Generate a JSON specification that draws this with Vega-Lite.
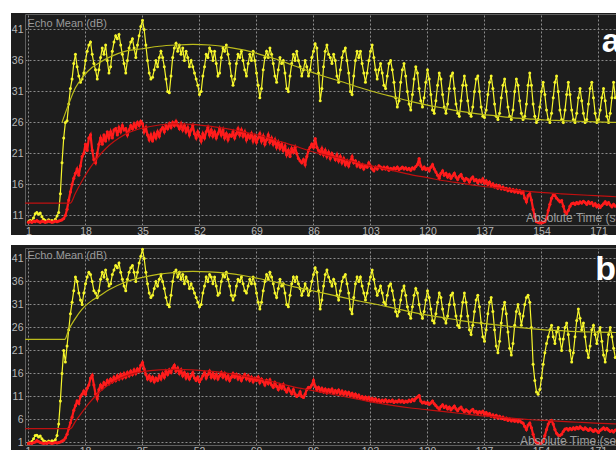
{
"$schema":"https://vega.github.io/schema/vega-lite/v6.json",
"padding":{"left":11,"top":13,"right":0,"bottom":0},
"background":"#ffffff",
"spacing":10,
"bounds":"flush",
"config":{
 "view":{"fill":"#1d1d1d","stroke":null},
 "font":"Liberation Sans",
 "axis":{"grid":false,"domain":false,"ticks":false,"tickSize":0,"labelOverlap":false,"labelColor":"#b8b8b8","labelFontSize":10.5,"labelFont":"Liberation Sans","titleColor":"#9a9a9a","titleFont":"Liberation Sans","titleFontSize":11,"titleFontWeight":"normal"}
},
"datasets":{
"xt":[{"t":1},{"t":18},{"t":35},{"t":52},{"t":69},{"t":86},{"t":103},{"t":120},{"t":137},{"t":154},{"t":171}],
"ya":[{"v":11},{"v":16},{"v":21},{"v":26},{"v":31},{"v":36},{"v":41}],
"yb":[{"v":1},{"v":6},{"v":11},{"v":16},{"v":21},{"v":26},{"v":31},{"v":36},{"v":41}],
"ayf":[{"t":11,"v":26.0},{"t":13,"v":29.0},{"t":15,"v":31.6},{"t":17,"v":33.2},{"t":20,"v":34.9},{"t":22,"v":35.6},{"t":25,"v":36.5},{"t":30,"v":37.5},{"t":35,"v":37.9},{"t":40,"v":38.3},{"t":45,"v":38.5},{"t":50,"v":38.6},{"t":55,"v":38.5},{"t":60,"v":38.2},{"t":65,"v":37.7},{"t":70,"v":37.0},{"t":75,"v":36.2},{"t":80,"v":35.2},{"t":85,"v":34.2},{"t":90,"v":33.3},{"t":95,"v":32.5},{"t":100,"v":31.6},{"t":105,"v":30.8},{"t":110,"v":30.1},{"t":115,"v":29.4},{"t":120,"v":28.8},{"t":125,"v":28.3},{"t":130,"v":27.8},{"t":135,"v":27.4},{"t":140,"v":27.1},{"t":145,"v":26.8},{"t":150,"v":26.6},{"t":155,"v":26.4},{"t":160,"v":26.3},{"t":165,"v":26.2},{"t":170,"v":26.1},{"t":177,"v":26.0}],
"arf":[{"t":0,"v":13.0},{"t":13.5,"v":13.0},{"t":15,"v":14.6},{"t":17,"v":16.6},{"t":19,"v":18.4},{"t":21,"v":19.9},{"t":23,"v":21.2},{"t":25,"v":22.3},{"t":28,"v":23.5},{"t":31,"v":24.4},{"t":35,"v":25.1},{"t":40,"v":25.6},{"t":45,"v":25.8},{"t":50,"v":25.7},{"t":55,"v":25.4},{"t":60,"v":25.0},{"t":65,"v":24.5},{"t":70,"v":23.9},{"t":75,"v":23.1},{"t":80,"v":22.3},{"t":85,"v":21.4},{"t":90,"v":20.7},{"t":95,"v":20.1},{"t":100,"v":19.4},{"t":105,"v":18.8},{"t":110,"v":18.2},{"t":115,"v":17.6},{"t":120,"v":17.1},{"t":125,"v":16.6},{"t":130,"v":16.2},{"t":135,"v":15.8},{"t":140,"v":15.5},{"t":145,"v":15.2},{"t":150,"v":14.9},{"t":160,"v":14.5},{"t":170,"v":14.2},{"t":177,"v":14.0}],
"byf":[{"t":0,"v":23.4},{"t":11.8,"v":23.4},{"t":13,"v":25.5},{"t":15,"v":28.0},{"t":17,"v":30.0},{"t":20,"v":31.9},{"t":22,"v":32.8},{"t":25,"v":34.2},{"t":30,"v":35.9},{"t":35,"v":36.9},{"t":40,"v":37.6},{"t":45,"v":38.0},{"t":50,"v":38.2},{"t":55,"v":38.1},{"t":60,"v":37.8},{"t":65,"v":37.3},{"t":70,"v":36.6},{"t":75,"v":35.8},{"t":80,"v":34.9},{"t":85,"v":34.1},{"t":90,"v":33.3},{"t":95,"v":32.5},{"t":100,"v":31.7},{"t":105,"v":31.0},{"t":110,"v":30.2},{"t":115,"v":29.4},{"t":120,"v":28.7},{"t":125,"v":28.1},{"t":130,"v":27.5},{"t":135,"v":27.0},{"t":140,"v":26.6},{"t":145,"v":26.2},{"t":150,"v":25.8},{"t":155,"v":25.5},{"t":160,"v":25.3},{"t":165,"v":25.1},{"t":170,"v":25.0},{"t":177,"v":24.9}],
"brf":[{"t":0,"v":4.0},{"t":13.5,"v":4.0},{"t":15,"v":5.6},{"t":17,"v":7.6},{"t":19,"v":9.5},{"t":21,"v":11.1},{"t":23,"v":12.5},{"t":25,"v":13.6},{"t":28,"v":14.8},{"t":31,"v":15.7},{"t":35,"v":16.4},{"t":40,"v":16.8},{"t":45,"v":16.9},{"t":50,"v":16.8},{"t":55,"v":16.5},{"t":60,"v":16.1},{"t":65,"v":15.5},{"t":70,"v":14.8},{"t":75,"v":14.0},{"t":80,"v":13.1},{"t":85,"v":12.4},{"t":90,"v":11.7},{"t":95,"v":11.0},{"t":100,"v":10.3},{"t":105,"v":9.6},{"t":110,"v":9.0},{"t":115,"v":8.5},{"t":120,"v":8.1},{"t":125,"v":7.7},{"t":130,"v":7.3},{"t":135,"v":6.9},{"t":140,"v":6.6},{"t":145,"v":6.3},{"t":150,"v":6.0},{"t":155,"v":5.8},{"t":160,"v":5.6},{"t":165,"v":5.4},{"t":170,"v":5.2},{"t":177,"v":5.0}],
"a":[
{"t":1,"y":10.0,"r":9.9},{"t":1.5,"y":10.2,"r":10.0},{"t":2,"y":10.1,"r":9.9},{"t":2.5,"y":10.6,"r":10.1},{"t":3,"y":11.3,"r":10.0},{"t":3.5,"y":11.5,"r":10.2},{"t":4,"y":11.2,"r":10.0},{"t":4.5,"y":11.4,"r":9.9},{"t":5,"y":10.8,"r":10.1},{"t":5.5,"y":10.4,"r":10.0},{"t":6,"y":10.2,"r":9.9},{"t":6.5,"y":10.0,"r":10.0},{"t":7,"y":10.3,"r":10.1},{"t":7.5,"y":10.1,"r":10.0},{"t":8,"y":10.2,"r":9.9},{"t":8.5,"y":10.0,"r":10.0},{"t":9,"y":10.4,"r":10.1},{"t":9.5,"y":10.9,"r":10.0},{"t":10,"y":11.5,"r":10.1},{"t":10.5,"y":14.5,"r":10.2},
{"t":11,"y":19.5,"r":10.3},{"t":11.5,"y":23.5,"r":10.5},{"t":12,"y":26.0,"r":11.0},{"t":12.5,"y":26.3,"r":12.0},{"t":13,"y":29.0,"r":13.5},{"t":13.5,"y":31.5,"r":14.8},{"t":14,"y":33.0,"r":16.0},{"t":14.5,"y":35.5,"r":17.0},{"t":15,"y":37.0,"r":17.8},{"t":15.5,"y":35.0,"r":18.5},{"t":16,"y":33.5,"r":17.5},{"t":16.5,"y":32.5,"r":19.0},{"t":17,"y":33.0,"r":20.5},{"t":17.5,"y":34.0,"r":21.0},{"t":18,"y":36.0,"r":22.5},{"t":18.5,"y":37.5,"r":21.5},{"t":19,"y":38.5,"r":23.5},{"t":19.5,"y":39.0,"r":24.0},{"t":20,"y":37.0,"r":21.5},{"t":20.5,"y":35.5,"r":20.0},
{"t":21,"y":34.5,"r":19.5},{"t":21.5,"y":33.0,"r":21.0},{"t":22,"y":34.5,"r":22.5},{"t":22.5,"y":36.5,"r":23.5},{"t":23,"y":38.0,"r":22.5},{"t":23.5,"y":37.0,"r":24.0},{"t":24,"y":38.5,"r":23.0},{"t":24.5,"y":36.0,"r":24.5},{"t":25,"y":34.0,"r":23.5},{"t":25.5,"y":35.0,"r":24.5},{"t":26,"y":37.5,"r":23.5},{"t":26.5,"y":39.0,"r":24.8},{"t":27,"y":40.0,"r":25.0},{"t":27.5,"y":39.5,"r":24.0},{"t":28,"y":40.2,"r":25.2},{"t":28.5,"y":38.5,"r":24.5},{"t":29,"y":37.0,"r":25.5},{"t":29.5,"y":35.5,"r":24.8},{"t":30,"y":34.0,"r":25.0},{"t":30.5,"y":36.0,"r":24.0},
{"t":31,"y":38.0,"r":24.8},{"t":31.5,"y":39.0,"r":25.5},{"t":32,"y":39.5,"r":25.0},{"t":32.5,"y":38.0,"r":25.8},{"t":33,"y":36.5,"r":25.2},{"t":33.5,"y":38.5,"r":26.0},{"t":34,"y":40.0,"r":25.5},{"t":34.5,"y":41.5,"r":26.2},{"t":35,"y":42.5,"r":25.8},{"t":35.5,"y":41.0,"r":24.5},{"t":36,"y":38.5,"r":25.2},{"t":36.5,"y":36.0,"r":24.0},{"t":37,"y":34.0,"r":23.2},{"t":37.5,"y":33.0,"r":24.0},{"t":38,"y":33.3,"r":23.0},{"t":38.5,"y":34.5,"r":24.2},{"t":39,"y":36.0,"r":23.5},{"t":39.5,"y":35.0,"r":24.5},{"t":40,"y":36.5,"r":23.8},{"t":40.5,"y":37.5,"r":24.8},
{"t":41,"y":36.5,"r":25.2},{"t":41.5,"y":35.0,"r":24.5},{"t":42,"y":33.0,"r":25.5},{"t":42.5,"y":31.0,"r":25.0},{"t":43,"y":30.8,"r":25.8},{"t":43.5,"y":33.5,"r":25.2},{"t":44,"y":36.5,"r":26.0},{"t":44.5,"y":38.0,"r":25.5},{"t":45,"y":38.8,"r":26.2},{"t":45.5,"y":37.5,"r":25.5},{"t":46,"y":38.5,"r":25.0},{"t":46.5,"y":37.0,"r":25.8},{"t":47,"y":38.0,"r":24.8},{"t":47.5,"y":36.0,"r":25.5},{"t":48,"y":37.5,"r":24.5},{"t":48.5,"y":36.5,"r":25.2},{"t":49,"y":35.0,"r":24.0},{"t":49.5,"y":36.0,"r":24.8},{"t":50,"y":35.0,"r":25.5},{"t":50.5,"y":34.0,"r":24.2},
{"t":51,"y":33.0,"r":23.5},{"t":51.5,"y":32.0,"r":24.5},{"t":52,"y":30.5,"r":23.8},{"t":52.5,"y":31.0,"r":23.0},{"t":53,"y":33.5,"r":24.2},{"t":53.5,"y":35.0,"r":23.5},{"t":54,"y":37.0,"r":24.5},{"t":54.5,"y":36.5,"r":25.2},{"t":55,"y":38.0,"r":24.0},{"t":55.5,"y":37.5,"r":24.8},{"t":56,"y":36.0,"r":23.8},{"t":56.5,"y":37.5,"r":24.5},{"t":57,"y":35.5,"r":23.5},{"t":57.5,"y":33.5,"r":24.2},{"t":58,"y":34.0,"r":25.0},{"t":58.5,"y":36.5,"r":24.0},{"t":59,"y":38.0,"r":24.8},{"t":59.5,"y":37.5,"r":23.5},{"t":60,"y":38.5,"r":24.2},{"t":60.5,"y":37.0,"r":23.2},
{"t":61,"y":35.5,"r":24.0},{"t":61.5,"y":33.5,"r":23.8},{"t":62,"y":32.0,"r":24.5},{"t":62.5,"y":33.0,"r":23.5},{"t":63,"y":35.5,"r":24.2},{"t":63.5,"y":37.0,"r":25.0},{"t":64,"y":36.5,"r":24.0},{"t":64.5,"y":37.5,"r":24.8},{"t":65,"y":36.0,"r":23.8},{"t":65.5,"y":34.5,"r":24.5},{"t":66,"y":33.5,"r":23.2},{"t":66.5,"y":35.5,"r":24.0},{"t":67,"y":37.0,"r":23.5},{"t":67.5,"y":36.0,"r":24.2},{"t":68,"y":37.5,"r":23.0},{"t":68.5,"y":36.0,"r":23.8},{"t":69,"y":34.0,"r":22.8},{"t":69.5,"y":32.0,"r":23.5},{"t":70,"y":30.0,"r":24.2},{"t":70.5,"y":31.5,"r":23.0},
{"t":71,"y":34.5,"r":23.8},{"t":71.5,"y":36.5,"r":22.5},{"t":72,"y":37.5,"r":23.2},{"t":72.5,"y":36.5,"r":24.0},{"t":73,"y":38.0,"r":22.8},{"t":73.5,"y":37.0,"r":23.5},{"t":74,"y":35.5,"r":22.5},{"t":74.5,"y":33.5,"r":23.2},{"t":75,"y":32.5,"r":22.0},{"t":75.5,"y":34.5,"r":22.8},{"t":76,"y":36.5,"r":21.8},{"t":76.5,"y":35.5,"r":22.5},{"t":77,"y":36.0,"r":21.5},{"t":77.5,"y":34.0,"r":22.2},{"t":78,"y":31.5,"r":20.8},{"t":78.5,"y":31.0,"r":21.5},{"t":79,"y":33.5,"r":20.5},{"t":79.5,"y":35.5,"r":21.8},{"t":80,"y":37.0,"r":21.2},{"t":80.5,"y":36.0,"r":22.0},
{"t":81,"y":37.5,"r":21.0},{"t":81.5,"y":36.0,"r":20.2},{"t":82,"y":35.0,"r":19.8},{"t":82.5,"y":33.5,"r":19.5},{"t":83,"y":34.5,"r":20.0},{"t":83.5,"y":36.0,"r":19.2},{"t":84,"y":35.0,"r":20.5},{"t":84.5,"y":33.5,"r":21.5},{"t":85,"y":34.5,"r":22.0},{"t":85.5,"y":36.5,"r":22.5},{"t":86,"y":37.5,"r":22.0},{"t":86.5,"y":38.7,"r":23.4},{"t":87,"y":38.0,"r":22.0},{"t":87.5,"y":34.0,"r":21.5},{"t":88,"y":29.5,"r":21.0},{"t":88.5,"y":31.5,"r":21.8},{"t":89,"y":35.0,"r":20.8},{"t":89.5,"y":37.5,"r":21.5},{"t":90,"y":38.5,"r":20.5},{"t":90.5,"y":37.0,"r":21.2},
{"t":91,"y":36.5,"r":20.2},{"t":91.5,"y":35.5,"r":21.0},{"t":92,"y":37.0,"r":20.5},{"t":92.5,"y":36.0,"r":20.0},{"t":93,"y":33.5,"r":20.8},{"t":93.5,"y":32.5,"r":19.8},{"t":94,"y":34.5,"r":20.5},{"t":94.5,"y":36.5,"r":19.5},{"t":95,"y":37.5,"r":20.2},{"t":95.5,"y":38.0,"r":19.2},{"t":96,"y":36.0,"r":19.8},{"t":96.5,"y":34.0,"r":19.0},{"t":97,"y":31.0,"r":19.8},{"t":97.5,"y":30.5,"r":20.5},{"t":98,"y":33.5,"r":19.5},{"t":98.5,"y":36.0,"r":19.8},{"t":99,"y":37.5,"r":19.0},{"t":99.5,"y":36.5,"r":19.5},{"t":100,"y":37.5,"r":18.8},{"t":100.5,"y":35.5,"r":19.2},
{"t":101,"y":34.0,"r":18.5},{"t":101.5,"y":32.5,"r":19.0},{"t":102,"y":34.0,"r":18.8},{"t":102.5,"y":36.0,"r":19.5},{"t":103,"y":37.5,"r":19.0},{"t":103.5,"y":38.5,"r":18.5},{"t":104,"y":36.5,"r":18.2},{"t":104.5,"y":34.5,"r":18.8},{"t":105,"y":33.0,"r":18.5},{"t":105.5,"y":34.5,"r":19.0},{"t":106,"y":35.5,"r":18.8},{"t":106.5,"y":34.0,"r":18.5},{"t":107,"y":32.0,"r":18.8},{"t":107.5,"y":31.5,"r":18.5},{"t":108,"y":33.5,"r":18.8},{"t":108.5,"y":35.5,"r":18.3},{"t":109,"y":36.0,"r":18.6},{"t":109.5,"y":34.5,"r":18.4},{"t":110,"y":32.5,"r":18.7},{"t":110.5,"y":30.0,"r":18.5},
{"t":111,"y":28.5,"r":18.8},{"t":111.5,"y":29.5,"r":18.4},{"t":112,"y":32.5,"r":18.6},{"t":112.5,"y":34.5,"r":18.8},{"t":113,"y":35.5,"r":18.5},{"t":113.5,"y":33.5,"r":18.7},{"t":114,"y":31.0,"r":18.4},{"t":114.5,"y":29.0,"r":18.6},{"t":115,"y":28.0,"r":18.3},{"t":115.5,"y":30.5,"r":18.7},{"t":116,"y":33.0,"r":18.5},{"t":116.5,"y":35.0,"r":18.9},{"t":117,"y":34.0,"r":19.2},{"t":117.5,"y":31.5,"r":20.2},{"t":118,"y":29.5,"r":19.0},{"t":118.5,"y":28.5,"r":18.5},{"t":119,"y":30.0,"r":18.8},{"t":119.5,"y":32.5,"r":18.4},{"t":120,"y":34.5,"r":18.6},{"t":120.5,"y":33.0,"r":18.2},
{"t":121,"y":30.5,"r":18.8},{"t":121.5,"y":28.0,"r":19.2},{"t":122,"y":27.5,"r":18.5},{"t":122.5,"y":29.5,"r":18.0},{"t":123,"y":32.0,"r":17.5},{"t":123.5,"y":34.0,"r":17.0},{"t":124,"y":33.0,"r":17.8},{"t":124.5,"y":30.5,"r":18.2},{"t":125,"y":28.5,"r":17.5},{"t":125.5,"y":27.5,"r":17.8},{"t":126,"y":29.0,"r":17.2},{"t":126.5,"y":31.5,"r":17.6},{"t":127,"y":33.5,"r":17.0},{"t":127.5,"y":34.0,"r":17.4},{"t":128,"y":31.5,"r":17.8},{"t":128.5,"y":29.0,"r":17.2},{"t":129,"y":27.5,"r":16.8},{"t":129.5,"y":27.0,"r":17.3},{"t":130,"y":29.5,"r":17.6},{"t":130.5,"y":32.0,"r":17.0},
{"t":131,"y":33.5,"r":16.6},{"t":131.5,"y":32.0,"r":17.0},{"t":132,"y":29.5,"r":16.8},{"t":132.5,"y":27.5,"r":16.4},{"t":133,"y":27.0,"r":16.9},{"t":133.5,"y":28.5,"r":17.2},{"t":134,"y":31.0,"r":16.6},{"t":134.5,"y":33.0,"r":16.8},{"t":135,"y":33.5,"r":16.3},{"t":135.5,"y":31.0,"r":16.7},{"t":136,"y":28.5,"r":16.4},{"t":136.5,"y":27.0,"r":16.9},{"t":137,"y":26.8,"r":16.2},{"t":137.5,"y":28.0,"r":16.6},{"t":138,"y":30.5,"r":16.0},{"t":138.5,"y":32.5,"r":16.4},{"t":139,"y":33.5,"r":15.8},{"t":139.5,"y":31.5,"r":16.1},{"t":140,"y":29.0,"r":15.6},{"t":140.5,"y":27.0,"r":15.9},
{"t":141,"y":26.5,"r":15.4},{"t":141.5,"y":27.5,"r":15.8},{"t":142,"y":30.0,"r":15.3},{"t":142.5,"y":32.0,"r":15.6},{"t":143,"y":33.0,"r":15.2},{"t":143.5,"y":31.0,"r":15.4},{"t":144,"y":28.5,"r":15.0},{"t":144.5,"y":27.0,"r":15.3},{"t":145,"y":26.5,"r":14.9},{"t":145.5,"y":28.0,"r":15.2},{"t":146,"y":31.0,"r":14.8},{"t":146.5,"y":33.0,"r":15.1},{"t":147,"y":32.0,"r":14.7},{"t":147.5,"y":29.5,"r":15.0},{"t":148,"y":27.5,"r":14.6},{"t":148.5,"y":26.5,"r":14.8},{"t":149,"y":27.0,"r":13.8},{"t":149.5,"y":29.0,"r":13.2},{"t":150,"y":32.0,"r":14.2},{"t":150.5,"y":34.0,"r":14.5},
{"t":151,"y":32.0,"r":13.5},{"t":151.5,"y":29.0,"r":12.0},{"t":152,"y":27.0,"r":10.8},{"t":152.5,"y":26.0,"r":10.0},{"t":153,"y":26.5,"r":9.9},{"t":153.5,"y":28.5,"r":9.8},{"t":154,"y":31.0,"r":9.8},{"t":154.5,"y":32.5,"r":9.9},{"t":155,"y":30.5,"r":10.0},{"t":155.5,"y":28.0,"r":10.5},{"t":156,"y":26.5,"r":11.8},{"t":156.5,"y":26.0,"r":12.8},{"t":157,"y":27.5,"r":13.8},{"t":157.5,"y":30.0,"r":14.3},{"t":158,"y":32.5,"r":14.2},{"t":158.5,"y":33.5,"r":13.8},{"t":159,"y":31.0,"r":13.5},{"t":159.5,"y":28.0,"r":13.2},{"t":160,"y":26.5,"r":13.4},{"t":160.5,"y":26.0,"r":12.5},
{"t":161,"y":28.0,"r":11.6},{"t":161.5,"y":30.5,"r":11.3},{"t":162,"y":32.5,"r":11.8},{"t":162.5,"y":30.5,"r":12.5},{"t":163,"y":28.0,"r":12.9},{"t":163.5,"y":26.5,"r":13.0},{"t":164,"y":26.0,"r":12.8},{"t":164.5,"y":27.5,"r":13.1},{"t":165,"y":30.0,"r":12.9},{"t":165.5,"y":31.5,"r":13.2},{"t":166,"y":29.5,"r":13.0},{"t":166.5,"y":27.5,"r":13.3},{"t":167,"y":26.0,"r":13.1},{"t":167.5,"y":26.5,"r":12.8},{"t":168,"y":29.0,"r":13.2},{"t":168.5,"y":31.5,"r":12.9},{"t":169,"y":32.5,"r":13.1},{"t":169.5,"y":30.0,"r":12.6},{"t":170,"y":27.5,"r":12.9},{"t":170.5,"y":26.0,"r":12.4},
{"t":171,"y":26.5,"r":12.7},{"t":171.5,"y":28.0,"r":12.3},{"t":172,"y":30.0,"r":12.6},{"t":172.5,"y":31.5,"r":12.9},{"t":173,"y":29.5,"r":13.2},{"t":173.5,"y":27.0,"r":12.8},{"t":174,"y":26.0,"r":13.1},{"t":174.5,"y":27.5,"r":12.7},{"t":175,"y":30.0,"r":12.4},{"t":175.5,"y":32.5,"r":12.8},{"t":176,"y":30.0,"r":12.5}
],
"b":[
{"t":1,"y":0.8,"r":0.8},{"t":1.5,"y":1.0,"r":0.9},{"t":2,"y":1.2,"r":0.8},{"t":2.5,"y":1.8,"r":1.0},{"t":3,"y":2.5,"r":1.1},{"t":3.5,"y":2.6,"r":1.4},{"t":4,"y":2.2,"r":1.2},{"t":4.5,"y":2.4,"r":1.0},{"t":5,"y":1.8,"r":0.9},{"t":5.5,"y":1.4,"r":0.8},{"t":6,"y":1.2,"r":0.9},{"t":6.5,"y":1.0,"r":0.8},{"t":7,"y":1.3,"r":1.0},{"t":7.5,"y":1.1,"r":0.9},{"t":8,"y":1.4,"r":0.8},{"t":8.5,"y":1.2,"r":0.9},{"t":9,"y":1.6,"r":1.0},{"t":9.5,"y":2.5,"r":0.9},{"t":10,"y":5.0,"r":1.0},{"t":10.5,"y":10.0,"r":1.1},
{"t":11,"y":16.0,"r":1.3},{"t":11.5,"y":21.0,"r":1.5},{"t":12,"y":18.5,"r":2.0},{"t":12.5,"y":22.0,"r":2.8},{"t":13,"y":25.5,"r":4.0},{"t":13.5,"y":29.0,"r":5.3},{"t":14,"y":31.5,"r":6.5},{"t":14.5,"y":34.0,"r":8.0},{"t":15,"y":37.0,"r":9.0},{"t":15.5,"y":36.0,"r":10.0},{"t":16,"y":33.5,"r":9.5},{"t":16.5,"y":32.0,"r":11.0},{"t":17,"y":31.0,"r":11.5},{"t":17.5,"y":33.5,"r":12.2},{"t":18,"y":35.5,"r":11.5},{"t":18.5,"y":37.0,"r":12.8},{"t":19,"y":38.0,"r":13.5},{"t":19.5,"y":37.5,"r":15.0},{"t":20,"y":36.0,"r":15.6},{"t":20.5,"y":34.0,"r":13.5},
{"t":21,"y":33.5,"r":11.5},{"t":21.5,"y":32.5,"r":10.5},{"t":22,"y":34.0,"r":12.5},{"t":22.5,"y":36.5,"r":13.5},{"t":23,"y":38.0,"r":12.8},{"t":23.5,"y":37.0,"r":14.0},{"t":24,"y":38.5,"r":13.5},{"t":24.5,"y":36.5,"r":14.5},{"t":25,"y":35.0,"r":13.8},{"t":25.5,"y":35.5,"r":14.8},{"t":26,"y":37.5,"r":14.2},{"t":26.5,"y":38.5,"r":15.2},{"t":27,"y":39.5,"r":14.5},{"t":27.5,"y":39.0,"r":15.5},{"t":28,"y":40.0,"r":14.8},{"t":28.5,"y":38.0,"r":15.8},{"t":29,"y":36.5,"r":15.0},{"t":29.5,"y":35.0,"r":16.0},{"t":30,"y":34.0,"r":15.2},{"t":30.5,"y":36.5,"r":16.2},
{"t":31,"y":38.0,"r":15.5},{"t":31.5,"y":39.0,"r":16.5},{"t":32,"y":39.5,"r":15.8},{"t":32.5,"y":38.0,"r":16.8},{"t":33,"y":36.0,"r":16.0},{"t":33.5,"y":38.0,"r":17.0},{"t":34,"y":40.0,"r":16.5},{"t":34.5,"y":41.5,"r":17.8},{"t":35,"y":43.0,"r":18.4},{"t":35.5,"y":41.0,"r":17.0},{"t":36,"y":38.0,"r":15.8},{"t":36.5,"y":35.5,"r":14.8},{"t":37,"y":33.5,"r":15.5},{"t":37.5,"y":32.5,"r":14.5},{"t":38,"y":33.0,"r":15.2},{"t":38.5,"y":34.5,"r":14.2},{"t":39,"y":36.0,"r":15.0},{"t":39.5,"y":35.0,"r":14.5},{"t":40,"y":36.5,"r":15.5},{"t":40.5,"y":37.5,"r":14.8},
{"t":41,"y":36.0,"r":16.0},{"t":41.5,"y":34.5,"r":15.2},{"t":42,"y":32.5,"r":16.5},{"t":42.5,"y":31.0,"r":15.8},{"t":43,"y":30.5,"r":16.8},{"t":43.5,"y":33.0,"r":16.2},{"t":44,"y":36.0,"r":17.2},{"t":44.5,"y":38.0,"r":17.8},{"t":45,"y":38.5,"r":16.5},{"t":45.5,"y":37.0,"r":17.2},{"t":46,"y":38.0,"r":16.0},{"t":46.5,"y":36.5,"r":16.8},{"t":47,"y":37.5,"r":15.5},{"t":47.5,"y":35.5,"r":16.2},{"t":48,"y":37.0,"r":15.0},{"t":48.5,"y":36.0,"r":15.8},{"t":49,"y":34.5,"r":14.8},{"t":49.5,"y":35.5,"r":15.5},{"t":50,"y":34.5,"r":16.2},{"t":50.5,"y":33.5,"r":15.0},
{"t":51,"y":32.5,"r":14.5},{"t":51.5,"y":31.5,"r":15.2},{"t":52,"y":30.5,"r":14.2},{"t":52.5,"y":31.0,"r":14.8},{"t":53,"y":33.5,"r":15.5},{"t":53.5,"y":35.0,"r":16.2},{"t":54,"y":37.0,"r":15.0},{"t":54.5,"y":36.0,"r":15.8},{"t":55,"y":37.5,"r":16.5},{"t":55.5,"y":37.0,"r":15.2},{"t":56,"y":35.5,"r":16.0},{"t":56.5,"y":37.0,"r":15.0},{"t":57,"y":35.0,"r":15.8},{"t":57.5,"y":33.0,"r":14.8},{"t":58,"y":33.5,"r":15.5},{"t":58.5,"y":36.0,"r":16.2},{"t":59,"y":37.5,"r":15.2},{"t":59.5,"y":37.0,"r":16.0},{"t":60,"y":38.0,"r":14.8},{"t":60.5,"y":36.5,"r":15.5},
{"t":61,"y":35.0,"r":14.5},{"t":61.5,"y":33.0,"r":15.2},{"t":62,"y":32.0,"r":16.0},{"t":62.5,"y":33.0,"r":15.2},{"t":63,"y":35.0,"r":15.8},{"t":63.5,"y":36.5,"r":14.8},{"t":64,"y":36.0,"r":15.5},{"t":64.5,"y":37.0,"r":14.5},{"t":65,"y":35.5,"r":15.2},{"t":65.5,"y":34.0,"r":15.8},{"t":66,"y":33.5,"r":14.8},{"t":66.5,"y":35.0,"r":15.5},{"t":67,"y":36.5,"r":14.5},{"t":67.5,"y":35.5,"r":15.2},{"t":68,"y":37.0,"r":14.2},{"t":68.5,"y":35.5,"r":15.0},{"t":69,"y":33.5,"r":14.5},{"t":69.5,"y":31.5,"r":15.2},{"t":70,"y":30.0,"r":14.0},{"t":70.5,"y":31.5,"r":14.8},
{"t":71,"y":34.0,"r":14.2},{"t":71.5,"y":36.0,"r":13.5},{"t":72,"y":37.5,"r":14.5},{"t":72.5,"y":36.5,"r":13.8},{"t":73,"y":38.0,"r":14.6},{"t":73.5,"y":37.0,"r":13.5},{"t":74,"y":35.5,"r":13.0},{"t":74.5,"y":33.5,"r":14.0},{"t":75,"y":32.5,"r":13.2},{"t":75.5,"y":34.5,"r":12.5},{"t":76,"y":36.5,"r":13.5},{"t":76.5,"y":35.0,"r":12.8},{"t":77,"y":35.5,"r":13.6},{"t":77.5,"y":33.5,"r":12.5},{"t":78,"y":31.0,"r":12.0},{"t":78.5,"y":30.5,"r":12.8},{"t":79,"y":33.0,"r":12.2},{"t":79.5,"y":35.5,"r":11.6},{"t":80,"y":37.0,"r":12.5},{"t":80.5,"y":36.0,"r":11.5},
{"t":81,"y":37.0,"r":11.0},{"t":81.5,"y":35.5,"r":11.3},{"t":82,"y":34.5,"r":12.0},{"t":82.5,"y":33.0,"r":11.0},{"t":83,"y":34.0,"r":10.8},{"t":83.5,"y":35.5,"r":11.5},{"t":84,"y":34.5,"r":12.5},{"t":84.5,"y":33.0,"r":13.0},{"t":85,"y":34.0,"r":13.0},{"t":85.5,"y":36.0,"r":13.5},{"t":86,"y":37.5,"r":14.5},{"t":86.5,"y":39.0,"r":13.2},{"t":87,"y":38.0,"r":12.5},{"t":87.5,"y":34.0,"r":13.0},{"t":88,"y":30.0,"r":12.2},{"t":88.5,"y":32.0,"r":12.8},{"t":89,"y":35.0,"r":12.0},{"t":89.5,"y":37.5,"r":12.6},{"t":90,"y":38.5,"r":11.8},{"t":90.5,"y":37.0,"r":12.5},
{"t":91,"y":36.0,"r":12.0},{"t":91.5,"y":35.0,"r":12.6},{"t":92,"y":36.5,"r":11.7},{"t":92.5,"y":35.5,"r":12.3},{"t":93,"y":33.0,"r":11.8},{"t":93.5,"y":32.0,"r":12.4},{"t":94,"y":34.0,"r":11.6},{"t":94.5,"y":36.0,"r":12.2},{"t":95,"y":37.0,"r":11.5},{"t":95.5,"y":37.5,"r":12.0},{"t":96,"y":35.5,"r":11.4},{"t":96.5,"y":33.5,"r":11.9},{"t":97,"y":30.0,"r":11.2},{"t":97.5,"y":29.0,"r":11.7},{"t":98,"y":32.5,"r":11.0},{"t":98.5,"y":35.5,"r":11.5},{"t":99,"y":37.0,"r":10.8},{"t":99.5,"y":36.0,"r":11.3},{"t":100,"y":37.0,"r":10.6},{"t":100.5,"y":35.0,"r":11.0},
{"t":101,"y":33.5,"r":10.4},{"t":101.5,"y":32.0,"r":10.9},{"t":102,"y":33.5,"r":10.3},{"t":102.5,"y":35.5,"r":10.8},{"t":103,"y":37.0,"r":10.1},{"t":103.5,"y":38.5,"r":10.6},{"t":104,"y":36.5,"r":10.0},{"t":104.5,"y":34.5,"r":10.5},{"t":105,"y":33.0,"r":9.9},{"t":105.5,"y":34.0,"r":10.3},{"t":106,"y":35.0,"r":9.8},{"t":106.5,"y":33.5,"r":10.2},{"t":107,"y":31.5,"r":9.9},{"t":107.5,"y":31.0,"r":10.3},{"t":108,"y":33.0,"r":9.8},{"t":108.5,"y":35.0,"r":10.1},{"t":109,"y":35.5,"r":9.9},{"t":109.5,"y":34.0,"r":10.2},{"t":110,"y":32.0,"r":9.7},{"t":110.5,"y":29.5,"r":10.0},
{"t":111,"y":28.5,"r":9.8},{"t":111.5,"y":29.5,"r":10.2},{"t":112,"y":32.0,"r":9.8},{"t":112.5,"y":34.0,"r":10.1},{"t":113,"y":35.0,"r":9.7},{"t":113.5,"y":33.0,"r":10.0},{"t":114,"y":30.5,"r":9.8},{"t":114.5,"y":29.0,"r":10.2},{"t":115,"y":28.0,"r":9.9},{"t":115.5,"y":30.5,"r":10.4},{"t":116,"y":33.0,"r":10.1},{"t":116.5,"y":34.5,"r":10.6},{"t":117,"y":33.5,"r":10.9},{"t":117.5,"y":31.0,"r":11.2},{"t":118,"y":29.0,"r":10.0},{"t":118.5,"y":28.0,"r":9.6},{"t":119,"y":29.5,"r":9.8},{"t":119.5,"y":32.0,"r":9.5},{"t":120,"y":34.0,"r":9.7},{"t":120.5,"y":32.5,"r":9.3},
{"t":121,"y":30.0,"r":9.6},{"t":121.5,"y":27.5,"r":10.0},{"t":122,"y":27.0,"r":9.4},{"t":122.5,"y":29.0,"r":9.0},{"t":123,"y":31.5,"r":8.6},{"t":123.5,"y":33.5,"r":8.2},{"t":124,"y":32.5,"r":8.8},{"t":124.5,"y":30.0,"r":9.2},{"t":125,"y":28.0,"r":8.6},{"t":125.5,"y":27.0,"r":8.9},{"t":126,"y":28.5,"r":8.3},{"t":126.5,"y":31.0,"r":8.7},{"t":127,"y":33.0,"r":8.1},{"t":127.5,"y":33.5,"r":8.5},{"t":128,"y":31.0,"r":8.9},{"t":128.5,"y":28.5,"r":8.3},{"t":129,"y":26.5,"r":7.9},{"t":129.5,"y":26.0,"r":8.4},{"t":130,"y":28.5,"r":8.7},{"t":130.5,"y":31.5,"r":8.1},
{"t":131,"y":33.5,"r":7.7},{"t":131.5,"y":31.5,"r":8.1},{"t":132,"y":28.5,"r":7.8},{"t":132.5,"y":25.5,"r":7.5},{"t":133,"y":24.5,"r":7.9},{"t":133.5,"y":26.5,"r":8.2},{"t":134,"y":29.5,"r":7.6},{"t":134.5,"y":32.0,"r":7.8},{"t":135,"y":33.0,"r":7.3},{"t":135.5,"y":30.5,"r":7.7},{"t":136,"y":27.0,"r":7.4},{"t":136.5,"y":24.0,"r":7.8},{"t":137,"y":23.0,"r":7.1},{"t":137.5,"y":25.5,"r":7.5},{"t":138,"y":29.0,"r":6.9},{"t":138.5,"y":31.5,"r":7.3},{"t":139,"y":32.5,"r":6.7},{"t":139.5,"y":29.5,"r":7.0},{"t":140,"y":25.5,"r":6.5},{"t":140.5,"y":22.0,"r":6.9},
{"t":141,"y":20.5,"r":6.3},{"t":141.5,"y":23.0,"r":6.7},{"t":142,"y":27.0,"r":6.2},{"t":142.5,"y":30.0,"r":6.5},{"t":143,"y":31.5,"r":6.0},{"t":143.5,"y":29.0,"r":6.3},{"t":144,"y":25.0,"r":5.8},{"t":144.5,"y":21.5,"r":6.1},{"t":145,"y":20.0,"r":5.7},{"t":145.5,"y":22.5,"r":6.0},{"t":146,"y":26.5,"r":5.6},{"t":146.5,"y":29.5,"r":5.9},{"t":147,"y":31.0,"r":5.5},{"t":147.5,"y":29.0,"r":5.8},{"t":148,"y":26.5,"r":5.4},{"t":148.5,"y":28.5,"r":5.2},{"t":149,"y":31.0,"r":4.5},{"t":149.5,"y":32.5,"r":3.8},{"t":150,"y":33.0,"r":4.8},{"t":150.5,"y":31.5,"r":5.2},
{"t":151,"y":26.0,"r":4.2},{"t":151.5,"y":18.0,"r":2.8},{"t":152,"y":14.5,"r":1.5},{"t":152.5,"y":12.0,"r":0.9},{"t":153,"y":11.5,"r":0.8},{"t":153.5,"y":12.5,"r":0.8},{"t":154,"y":15.0,"r":0.9},{"t":154.5,"y":18.0,"r":1.2},{"t":155,"y":20.5,"r":2.5},{"t":155.5,"y":22.5,"r":3.8},{"t":156,"y":24.0,"r":5.0},{"t":156.5,"y":25.5,"r":5.6},{"t":157,"y":26.5,"r":5.8},{"t":157.5,"y":24.0,"r":5.0},{"t":158,"y":22.5,"r":3.8},{"t":158.5,"y":25.0,"r":3.0},{"t":159,"y":26.0,"r":2.6},{"t":159.5,"y":23.5,"r":2.5},{"t":160,"y":21.0,"r":2.8},{"t":160.5,"y":23.5,"r":3.4},
{"t":161,"y":26.0,"r":3.9},{"t":161.5,"y":27.0,"r":4.0},{"t":162,"y":24.5,"r":3.7},{"t":162.5,"y":21.0,"r":4.1},{"t":163,"y":18.5,"r":3.8},{"t":163.5,"y":20.5,"r":4.2},{"t":164,"y":24.0,"r":3.9},{"t":164.5,"y":27.5,"r":4.3},{"t":165,"y":30.0,"r":4.0},{"t":165.5,"y":28.0,"r":4.4},{"t":166,"y":25.5,"r":4.1},{"t":166.5,"y":27.0,"r":3.8},{"t":167,"y":24.0,"r":4.2},{"t":167.5,"y":21.0,"r":3.9},{"t":168,"y":19.5,"r":3.6},{"t":168.5,"y":22.0,"r":4.0},{"t":169,"y":25.5,"r":3.7},{"t":169.5,"y":26.5,"r":3.4},{"t":170,"y":24.5,"r":3.8},{"t":170.5,"y":22.5,"r":3.5},
{"t":171,"y":25.0,"r":3.2},{"t":171.5,"y":26.0,"r":3.6},{"t":172,"y":23.0,"r":3.9},{"t":172.5,"y":20.0,"r":4.2},{"t":173,"y":18.5,"r":3.8},{"t":173.5,"y":21.0,"r":4.1},{"t":174,"y":24.5,"r":3.7},{"t":174.5,"y":26.0,"r":3.4},{"t":175,"y":24.0,"r":3.6},{"t":175.5,"y":21.5,"r":3.3},{"t":176,"y":19.5,"r":3.7}
],
"la":[{"t":149.4,"v":10.6,"label":"Absolute Time (sec)"}],
"lb":[{"t":147.6,"v":1.33,"label":"Absolute Time (sec)"}],
"pa":[{"t":172.0,"v":37.37,"label":"a"}],
"pb":[{"t":170.0,"v":36.33,"label":"b"}]
},
"vconcat":[
{
 "width":605,"height":222,
 "layer":[
  {"data":{"name":"xt"},"mark":{"type":"rule","color":"#8c8c8c","strokeDash":[2,2],"strokeWidth":1},
   "encoding":{"x":{"field":"t","type":"quantitative","scale":{"domain":[-4.2193,176.2193],"nice":false,"zero":false}},"y":{"datum":9.387,"type":"quantitative","scale":{"domain":[7.855,43.661],"nice":false,"zero":false}},"y2":{"datum":43.419}}},
  {"data":{"name":"ya"},"mark":{"type":"rule","color":"#8c8c8c","strokeDash":[2,2],"strokeWidth":1,"clip":true},
   "encoding":{"x":{"datum":0.105,"type":"quantitative","scale":{"domain":[-4.2193,176.2193],"nice":false,"zero":false}},"x2":{"datum":176.2},"y":{"field":"v","type":"quantitative","scale":{"domain":[7.855,43.661],"nice":false,"zero":false}}}},
  {"data":{"values":[{}]},"mark":{"type":"rect","fillOpacity":0,"stroke":"#606060","strokeWidth":1,"clip":true},
   "encoding":{"x":{"datum":0.105,"type":"quantitative","scale":{"domain":[-4.2193,176.2193],"nice":false,"zero":false}},"x2":{"datum":180},"y":{"datum":9.387,"type":"quantitative","scale":{"domain":[7.855,43.661],"nice":false,"zero":false}},"y2":{"datum":43.419}}},
  {"data":{"name":"a"},"transform":[{"fold":["y"],"as":["k","v"]}],"mark":{"type":"line","color":"#f6f62c","strokeWidth":1.2,"clip":true,"point":{"filled":true,"size":9,"color":"#f6f62c"}},
   "encoding":{"x":{"field":"t","type":"quantitative","scale":{"domain":[-4.2193,176.2193],"nice":false,"zero":false},"axis":{"values":[1,18,35,52,69,86,103,120,137,154,171],"tickCount":30,"offset":-10,"labelPadding":6,"labelBaseline":"middle","labelFlush":false,"labelOverlap":false,"title":null}},
    "y":{"field":"v","type":"quantitative","scale":{"domain":[7.855,43.661],"nice":false,"zero":false},"axis":{"values":[11,16,21,26,31,36,41],"tickCount":30,"offset":-15,"labelPadding":3,"labelOverlap":false,"title":"Echo Mean (dB)","titleAngle":0,"titleAlign":"left","titleBaseline":"middle","titleX":1,"titleY":10}}}},
  {"data":{"name":"a"},"transform":[{"fold":["r"],"as":["k","v"]}],"mark":{"type":"line","color":"#ff1c1c","strokeWidth":2.2,"clip":true,"point":{"filled":true,"size":10,"color":"#ff1c1c"}},
   "encoding":{"x":{"field":"t","type":"quantitative"},"y":{"field":"v","type":"quantitative"}}},
  {"data":{"name":"ayf"},"mark":{"type":"line","color":"#bcbc1c","strokeWidth":1.2,"interpolate":"monotone","clip":true},
   "encoding":{"x":{"field":"t","type":"quantitative"},"y":{"field":"v","type":"quantitative"}}},
  {"data":{"name":"arf"},"mark":{"type":"line","color":"#c01010","strokeWidth":1.2,"interpolate":"monotone","clip":true},
   "encoding":{"x":{"field":"t","type":"quantitative"},"y":{"field":"v","type":"quantitative"}}},
  {"data":{"name":"la"},"mark":{"type":"text","align":"left","baseline":"middle","clip":true,"font":"Liberation Sans","fontSize":12,"color":"#b0b0b0","opacity":0.85},
   "encoding":{"x":{"field":"t","type":"quantitative"},"y":{"field":"v","type":"quantitative"},"text":{"field":"label"}}},
  {"data":{"name":"pa"},"mark":{"type":"text","align":"left","baseline":"alphabetic","clip":true,"font":"Liberation Sans","fontSize":34,"fontWeight":"bold","color":"#ffffff"},
   "encoding":{"x":{"field":"t","type":"quantitative"},"y":{"field":"v","type":"quantitative"},"text":{"field":"label"}}}
 ]
},
{
 "width":605,"height":205,
 "layer":[
  {"data":{"name":"xt"},"mark":{"type":"rule","color":"#8c8c8c","strokeDash":[2,2],"strokeWidth":1},
   "encoding":{"x":{"field":"t","type":"quantitative","scale":{"domain":[-4.2193,176.2193],"nice":false,"zero":false},"axis":null},"y":{"datum":0.348,"type":"quantitative","scale":{"domain":[-0.63,43.935],"nice":false,"zero":false}},"y2":{"datum":43.174}}},
  {"data":{"name":"yb"},"mark":{"type":"rule","color":"#8c8c8c","strokeDash":[2,2],"strokeWidth":1,"clip":true},
   "encoding":{"x":{"datum":0.105,"type":"quantitative","scale":{"domain":[-4.2193,176.2193],"nice":false,"zero":false},"axis":null},"x2":{"datum":176.2},"y":{"field":"v","type":"quantitative","scale":{"domain":[-0.63,43.935],"nice":false,"zero":false}}}},
  {"data":{"values":[{}]},"mark":{"type":"rect","fillOpacity":0,"stroke":"#606060","strokeWidth":1,"clip":true},
   "encoding":{"x":{"datum":0.105,"type":"quantitative","scale":{"domain":[-4.2193,176.2193],"nice":false,"zero":false},"axis":null},"x2":{"datum":180},"y":{"datum":0.348,"type":"quantitative","scale":{"domain":[-0.63,43.935],"nice":false,"zero":false}},"y2":{"datum":43.174}}},
  {"data":{"name":"b"},"transform":[{"fold":["y"],"as":["k","v"]}],"mark":{"type":"line","color":"#f6f62c","strokeWidth":1.2,"clip":true,"point":{"filled":true,"size":9,"color":"#f6f62c"}},
   "encoding":{"x":{"field":"t","type":"quantitative","scale":{"domain":[-4.2193,176.2193],"nice":false,"zero":false},"axis":null},
    "y":{"field":"v","type":"quantitative","scale":{"domain":[-0.63,43.935],"nice":false,"zero":false},"axis":{"values":[1,6,11,16,21,26,31,36,41],"tickCount":30,"offset":-15,"labelPadding":3,"labelOverlap":false,"title":"Echo Mean (dB)","titleAngle":0,"titleAlign":"left","titleBaseline":"middle","titleX":1,"titleY":10}}}},
  {"data":{"name":"b"},"transform":[{"fold":["r"],"as":["k","v"]}],"mark":{"type":"line","color":"#ff1c1c","strokeWidth":2.2,"clip":true,"point":{"filled":true,"size":10,"color":"#ff1c1c"}},
   "encoding":{"x":{"field":"t","type":"quantitative","axis":null},"y":{"field":"v","type":"quantitative"}}},
  {"data":{"name":"byf"},"mark":{"type":"line","color":"#bcbc1c","strokeWidth":1.2,"interpolate":"monotone","clip":true},
   "encoding":{"x":{"field":"t","type":"quantitative","axis":null},"y":{"field":"v","type":"quantitative"}}},
  {"data":{"name":"brf"},"mark":{"type":"line","color":"#c01010","strokeWidth":1.2,"interpolate":"monotone","clip":true},
   "encoding":{"x":{"field":"t","type":"quantitative","axis":null},"y":{"field":"v","type":"quantitative"}}},
  {"data":{"name":"xt"},"mark":{"type":"text","align":"center","baseline":"top","clip":true,"font":"Liberation Sans","fontSize":10.5,"color":"#b8b8b8"},
   "encoding":{"x":{"field":"t","type":"quantitative","axis":null},"y":{"datum":0.022,"type":"quantitative"},"text":{"field":"t"}}},
  {"data":{"name":"lb"},"mark":{"type":"text","align":"left","baseline":"middle","clip":true,"font":"Liberation Sans","fontSize":12,"color":"#b0b0b0","opacity":0.85},
   "encoding":{"x":{"field":"t","type":"quantitative","axis":null},"y":{"field":"v","type":"quantitative"},"text":{"field":"label"}}},
  {"data":{"name":"pb"},"mark":{"type":"text","align":"left","baseline":"alphabetic","clip":true,"font":"Liberation Sans","fontSize":34,"fontWeight":"bold","color":"#ffffff"},
   "encoding":{"x":{"field":"t","type":"quantitative","axis":null},"y":{"field":"v","type":"quantitative"},"text":{"field":"label"}}}
 ]
}
]
}
